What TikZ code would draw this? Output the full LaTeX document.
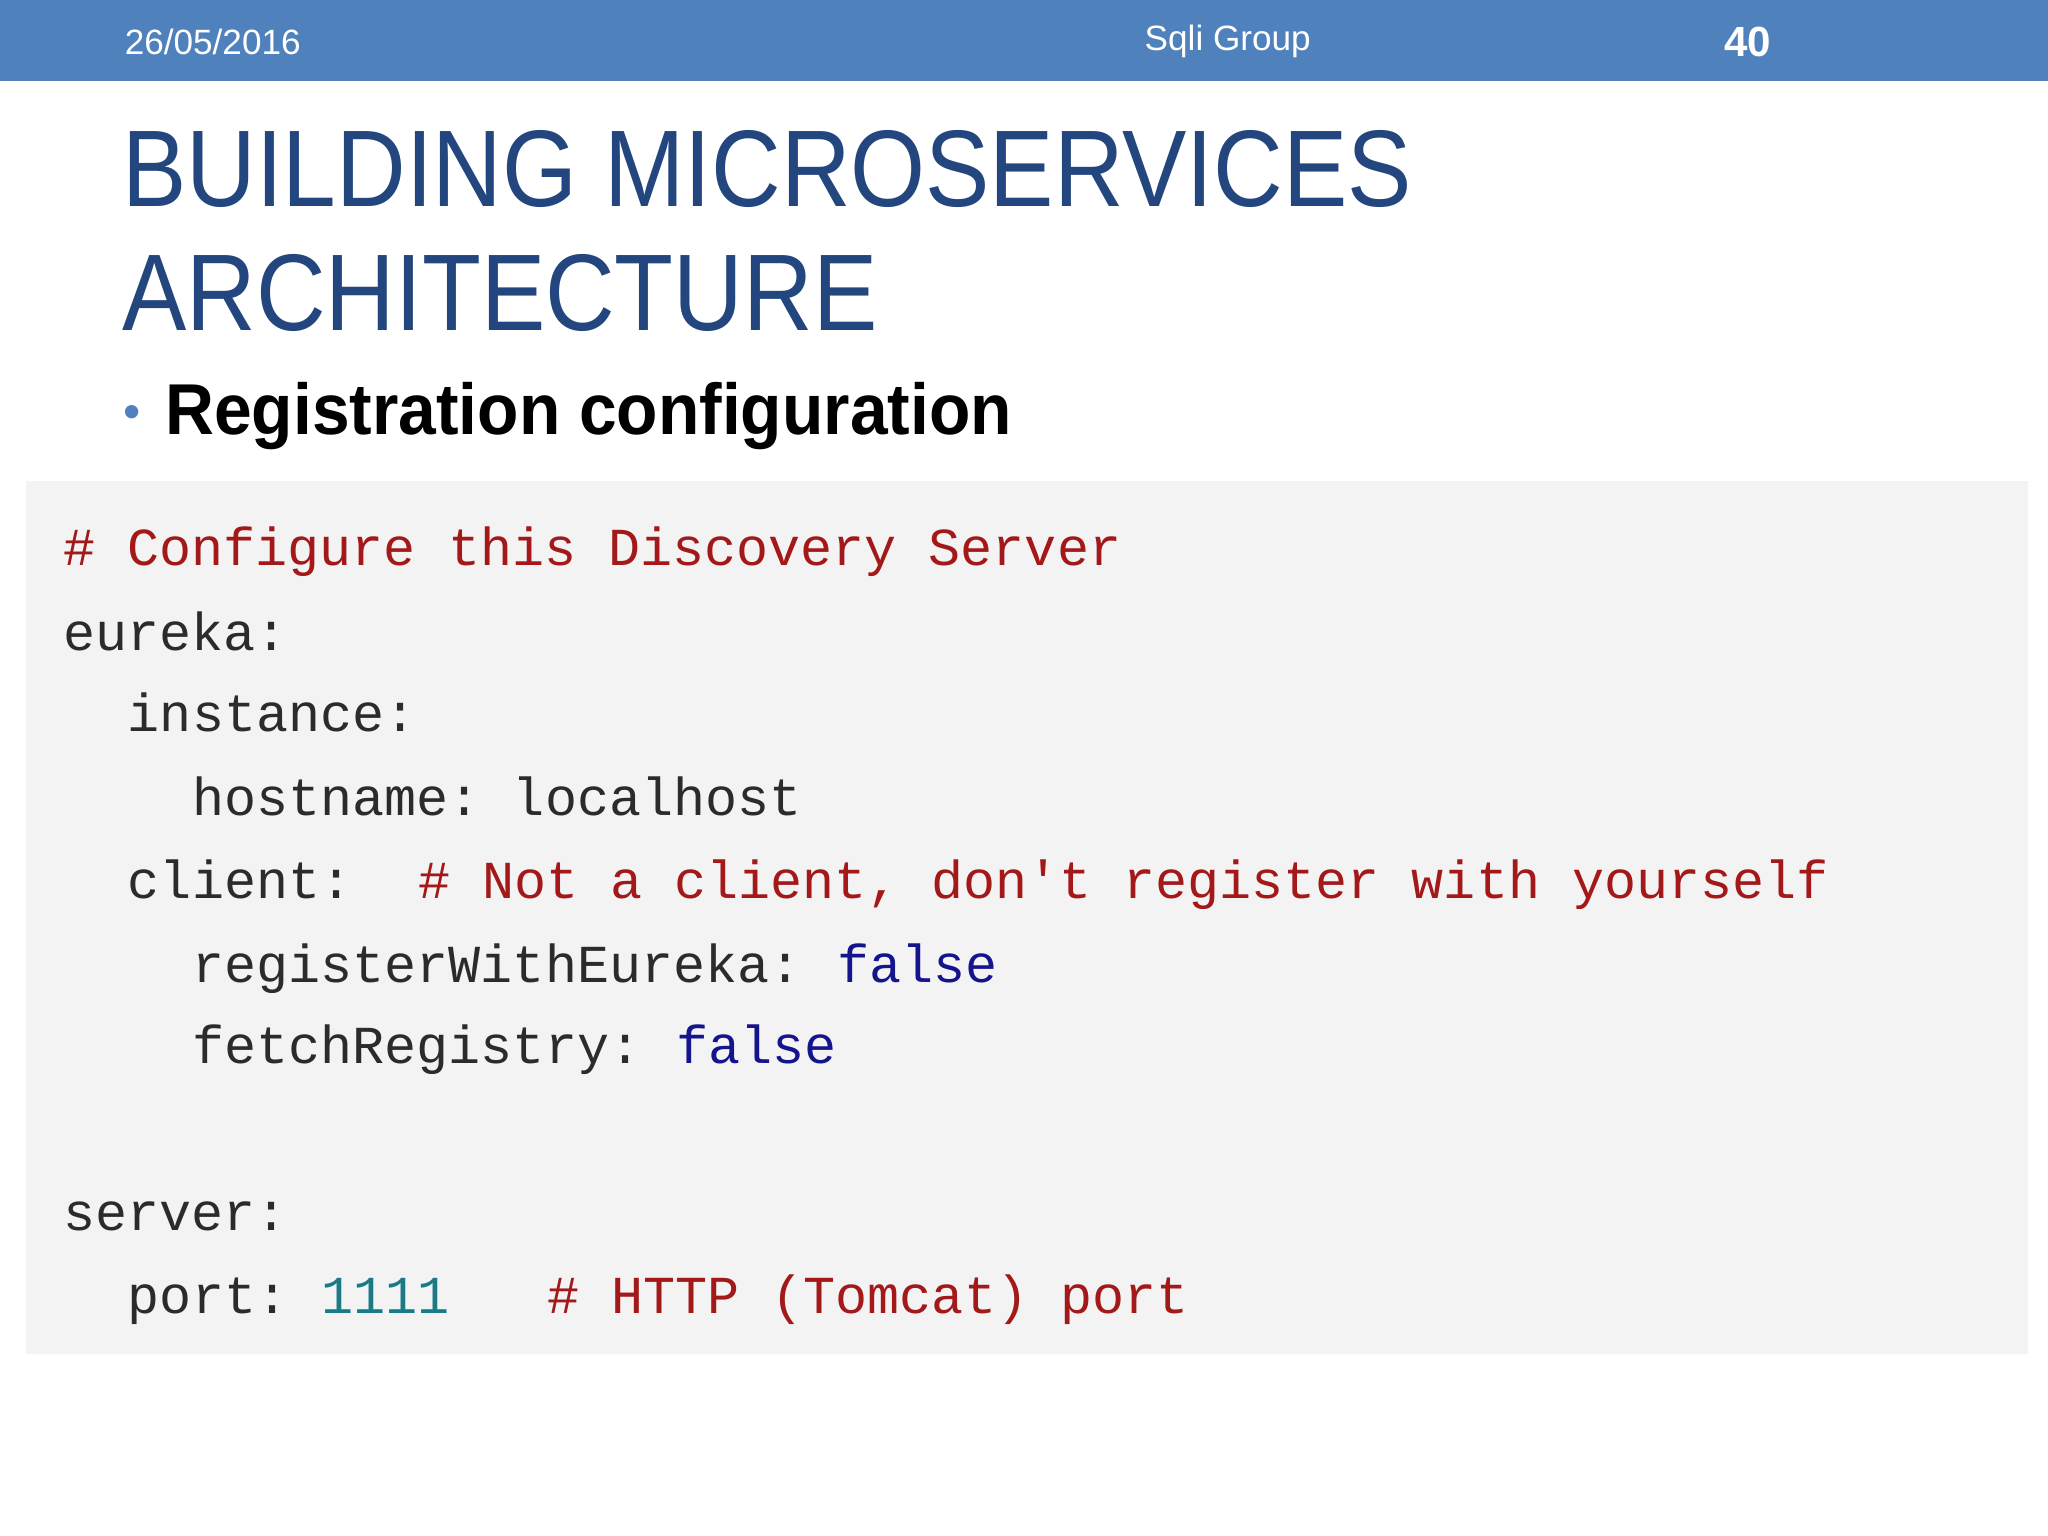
\documentclass[tikz,border=0pt]{standalone}
\usepackage{fontspec}
\setmainfont{Liberation Sans}
\setmonofont{Liberation Mono}
\definecolor{hdr}{HTML}{4F81BD}
\definecolor{ttl}{HTML}{23467E}
\definecolor{codebg}{HTML}{F4F3F4}
\definecolor{cmt}{HTML}{A31818}
\definecolor{key}{HTML}{2B2B2B}
\definecolor{bool}{HTML}{14148C}
\definecolor{num}{HTML}{1A7A86}
\tikzset{
  cd/.style={anchor=base west, inner sep=0pt, font=\ttfamily\fontsize{15.2}{18}\selectfont},
  hd/.style={text=white, font=\fontsize{10}{12}\selectfont, inner sep=0pt}
}
\begin{document}
\begin{tikzpicture}[x=0.013061cm,y=-0.013061cm]
\useasboundingbox (0,0) rectangle (1568,1176);
\fill[hdr] (0,0) rectangle (1568,62);
\node[hd,anchor=west] (date) at (95,32) {26/05/2016};
\node[hd] (grp) at (940,32) {Sqli Group};
\node[hd,font=\bfseries\fontsize{12}{14}\selectfont] (pg) at (1338,32) {40};
\node[anchor=base west,inner sep=0pt,text=ttl,font=\fontsize{31}{36}\selectfont] (t1) at (93,158) {\scalebox{0.885}[1]{BUILDING MICROSERVICES}};
\node[anchor=base west,inner sep=0pt,text=ttl,font=\fontsize{31}{36}\selectfont] (t2) at (93,253) {\scalebox{0.885}[1]{ARCHITECTURE}};
\node[anchor=base west,inner sep=0pt,text=hdr,font=\fontsize{14}{16}\selectfont] (bul) at (94,328) {•};
\node[anchor=base west,inner sep=0pt,font=\bfseries\fontsize{20.5}{24}\selectfont] (sub) at (126,333) {\scalebox{0.94}[1]{Registration configuration}};
\fill[codebg] (20,368) rectangle (1553,1037);
\def\c#1{\fpeval{48+24.7*#1}}
\node[cd,text=cmt] (l1) at (\c{0},433) {\# Configure this Discovery Server};
\node[cd,text=key] (l2) at (\c{0},498) {eureka:};
\node[cd,text=key] (l3) at (\c{2},560) {instance:};
\node[cd,text=key] (l4) at (\c{4},624) {hostname: localhost};
\node[cd,text=key] (l5) at (\c{2},688) {client:};
\node[cd,text=cmt] (l5c) at (\c{11},688) {\# Not a client, don't register with yourself};
\node[cd,text=key] (l6) at (\c{4},752) {registerWithEureka:};
\node[cd,text=bool] (l6b) at (\c{24},752) {false};
\node[cd,text=key] (l7) at (\c{4},814) {fetchRegistry:};
\node[cd,text=bool] (l7b) at (\c{19},814) {false};
\node[cd,text=key] (l8) at (\c{0},942) {server:};
\node[cd,text=key] (l9) at (\c{2},1006) {port:};
\node[cd,text=num] (l9n) at (\c{8},1006) {1111};
\node[cd,text=cmt] (l9c) at (\c{15},1006) {\# HTTP (Tomcat) port};
\end{tikzpicture}
\end{document}
